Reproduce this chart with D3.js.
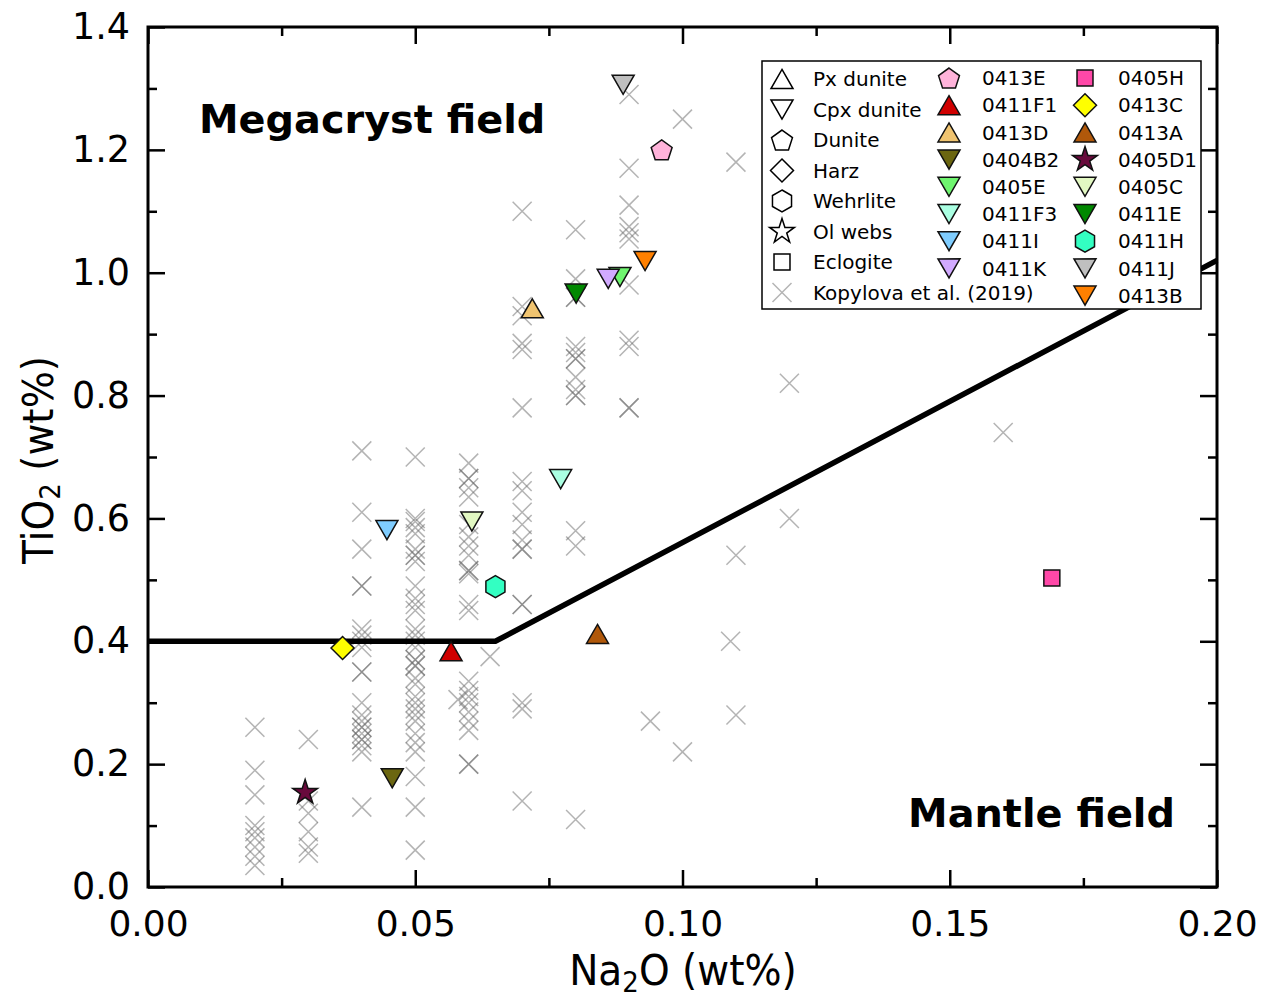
<!DOCTYPE html>
<html>
<head>
<meta charset="utf-8">
<script src="https://cdn.jsdelivr.net/npm/d3@7"></script>
<style>
  html, body { margin: 0; padding: 0; background: #fff; }
  svg { display: block; }
</style>
</head>
<body>
<div id="chart"></div>
<script>
// ---- Data -------------------------------------------------------------

// Kopylova et al. (2019) clinopyroxene analyses, grouped by Na2O (wt%)
const kopylova = [
  { na: 0.02,  ti: [0.26, 0.19, 0.15, 0.10, 0.09, 0.08, 0.065, 0.05, 0.035] },
  { na: 0.03,  ti: [0.24, 0.14, 0.12, 0.09, 0.065, 0.055] },
  { na: 0.04,  ti: [0.71, 0.61, 0.55, 0.49, 0.49, 0.42, 0.41, 0.40, 0.39, 0.35, 0.35,
                    0.30, 0.28, 0.27, 0.26, 0.26, 0.25, 0.24, 0.24, 0.23, 0.22, 0.13] },
  { na: 0.05,  ti: [0.70, 0.60, 0.595, 0.585, 0.575, 0.55, 0.54, 0.54, 0.53, 0.49, 0.47,
                    0.46, 0.45, 0.42, 0.41, 0.40, 0.39, 0.37, 0.37, 0.36, 0.36, 0.34,
                    0.33, 0.31, 0.30, 0.29, 0.28, 0.27, 0.25, 0.235, 0.22, 0.18, 0.13, 0.06] },
  { na: 0.058, ti: [0.305] },
  { na: 0.06,  ti: [0.69, 0.665, 0.665, 0.65, 0.635, 0.59, 0.57, 0.555, 0.54, 0.515, 0.515,
                    0.51, 0.46, 0.45, 0.335, 0.32, 0.31, 0.30, 0.285, 0.27, 0.255, 0.20, 0.20] },
  { na: 0.064, ti: [0.375] },
  { na: 0.07,  ti: [1.10, 0.945, 0.93, 0.885, 0.875, 0.78, 0.66, 0.645, 0.61, 0.59, 0.565,
                    0.55, 0.55, 0.46, 0.46, 0.30, 0.29, 0.14] },
  { na: 0.08,  ti: [1.07, 0.99, 0.96, 0.96, 0.88, 0.87, 0.86, 0.86, 0.83, 0.81, 0.80, 0.80,
                    0.58, 0.555, 0.11] },
  { na: 0.09,  ti: [1.29, 1.17, 1.11, 1.075, 1.065, 1.055, 0.98, 0.89, 0.88, 0.78, 0.78] },
  { na: 0.094, ti: [0.27] },
  { na: 0.10,  ti: [1.25, 0.22] },
  { na: 0.109, ti: [0.40] },
  { na: 0.11,  ti: [1.18, 0.54, 0.28] },
  { na: 0.12,  ti: [0.82, 0.60] },
  { na: 0.16,  ti: [0.74] }
];

// Samples from this study
const sampleIds   = ["0413E", "0411F1", "0413D", "0404B2", "0405E", "0411F3", "0411I", "0411K",
                     "0405H", "0413C", "0413A", "0405D1", "0405C", "0411E", "0411H", "0411J", "0413B"];
const sampleRock  = ["Dunite", "Px dunite", "Px dunite", "Cpx dunite", "Cpx dunite", "Cpx dunite",
                     "Cpx dunite", "Cpx dunite", "Eclogite", "Harz", "Px dunite", "Ol webs",
                     "Cpx dunite", "Cpx dunite", "Wehrlite", "Cpx dunite", "Cpx dunite"];
const sampleNa2O  = [0.0961, 0.0567, 0.0719, 0.0457, 0.0883, 0.0772, 0.0447, 0.0861,
                     0.1691, 0.0364, 0.0841, 0.0294, 0.0606, 0.0801, 0.0650, 0.0889, 0.0930];
const sampleTiO2  = [1.200, 0.384, 0.942, 0.177, 0.993, 0.664, 0.581, 0.990,
                     0.503, 0.389, 0.412, 0.154, 0.595, 0.966, 0.489, 1.306, 1.019];

// Megacryst / mantle field boundary
const boundaryNa2O = [0, 0.065, 0.2];
const boundaryTiO2 = [0.4, 0.4, 1.02];

// Axis ticks
const xMajorTicks = [0, 0.05, 0.10, 0.15, 0.20];
const xMinorTicks = [0.025, 0.075, 0.125, 0.175];
const yMajorTicks = [0, 0.2, 0.4, 0.6, 0.8, 1.0, 1.2, 1.4];
const yMinorTicks = [0.1, 0.3, 0.5, 0.7, 0.9, 1.1, 1.3];

// Legend groups
const rockTypes = ["Px dunite", "Cpx dunite", "Dunite", "Harz", "Wehrlite", "Ol webs", "Eclogite"];
const legendCol2 = ["0413E", "0411F1", "0413D", "0404B2", "0405E", "0411F3", "0411I", "0411K"];
const legendCol3 = ["0405H", "0413C", "0413A", "0405D1", "0405C", "0411E", "0411H", "0411J", "0413B"];

// ---- Styles -----------------------------------------------------------

const sampleColor = {
  "0413E": "#ffb3da", "0411F1": "#d00000", "0413D": "#f0c470", "0404B2": "#6b6610",
  "0405E": "#6ff56f", "0411F3": "#aaffe2", "0411I": "#7fcdff", "0411K": "#d2aaff",
  "0405H": "#ff48a8", "0413C": "#ffff00", "0413A": "#b0580a", "0405D1": "#680a3c",
  "0405C": "#e2f8c2", "0411E": "#008800", "0411H": "#33ffc2", "0411J": "#bfbfbf",
  "0413B": "#ff8000"
};
const rockShape = {
  "Px dunite": "up", "Cpx dunite": "down", "Dunite": "pentagon", "Harz": "diamond",
  "Wehrlite": "hexagon", "Ol webs": "star", "Eclogite": "square"
};

// ---- Geometry ---------------------------------------------------------

const W = 1270, H = 1002;
const plot = { left: 148, right: 1217, top: 27, bottom: 887 };

const x = d3.scaleLinear().domain([0, 0.2]).range([plot.left, plot.right]);
const y = d3.scaleLinear().domain([0, 1.4]).range([plot.bottom, plot.top]);

const svg = d3.select("#chart").append("svg")
  .attr("width", W).attr("height", H)
  .attr("font-family", "'DejaVu Sans', Verdana, sans-serif");

// polygon path centred on its bounding box
function polygonPath(n, r, startDeg) {
  const pts = d3.range(n).map(i => {
    const a = (startDeg + i * 360 / n) * Math.PI / 180;
    return [r * Math.cos(a), r * Math.sin(a)];
  });
  const ex = d3.extent(pts, p => p[0]), ey = d3.extent(pts, p => p[1]);
  const cx = (ex[0] + ex[1]) / 2, cy = (ey[0] + ey[1]) / 2;
  return "M" + pts.map(p => [(p[0] - cx).toFixed(2), (p[1] - cy).toFixed(2)].join(",")).join("L") + "Z";
}

function shapePath(kind) {
  switch (kind) {
    case "up":       return polygonPath(3, 12.7, -90);
    case "down":     return polygonPath(3, 12.7, 90);
    case "pentagon": return polygonPath(5, 11, -90);
    case "hexagon":  return polygonPath(6, 11, -90);
    case "diamond":  return polygonPath(4, 11.5, -90);
    case "square":   return polygonPath(4, 11.3, -45);
    case "star":     return d3.symbol().type(d3.symbolStar).size(190)();
  }
}

const crossPath = "M-9.5,-9.5L9.5,9.5M-9.5,9.5L9.5,-9.5";
const crossStyle = sel => sel.attr("fill", "none").attr("stroke", "#6a6a6a")
  .attr("stroke-width", 1.5).attr("stroke-opacity", 0.5);

// ---- Ticks (inward on all four sides) --------------------------------

const tickW = 2.5;
function styleAxis(g) {
  g.select(".domain").remove();
  g.selectAll(".tick line").attr("stroke", "#000").attr("stroke-width", tickW);
}

// bottom
svg.append("g").attr("transform", `translate(0,${plot.bottom})`)
  .call(d3.axisBottom(x).tickValues(xMajorTicks).tickSize(-17).tickPadding(0)
    .tickFormat(d3.format(".2f")))
  .call(styleAxis)
  .call(g => g.selectAll(".tick text").attr("font-size", 36).attr("fill", "#000")
    .attr("font-family", "'DejaVu Sans', Verdana, sans-serif")
    .attr("dy", null).attr("y", 49));
svg.append("g").attr("transform", `translate(0,${plot.bottom})`)
  .call(d3.axisBottom(x).tickValues(xMinorTicks).tickSize(-9).tickFormat(""))
  .call(styleAxis);
// top
svg.append("g").attr("transform", `translate(0,${plot.top})`)
  .call(d3.axisTop(x).tickValues(xMajorTicks).tickSize(-17).tickFormat(""))
  .call(styleAxis);
svg.append("g").attr("transform", `translate(0,${plot.top})`)
  .call(d3.axisTop(x).tickValues(xMinorTicks).tickSize(-9).tickFormat(""))
  .call(styleAxis);
// left
svg.append("g").attr("transform", `translate(${plot.left},0)`)
  .call(d3.axisLeft(y).tickValues(yMajorTicks).tickSize(-17).tickPadding(18)
    .tickFormat(d3.format(".1f")))
  .call(styleAxis)
  .call(g => g.selectAll(".tick text").attr("font-size", 36.5).attr("fill", "#000")
    .attr("font-family", "'DejaVu Sans', Verdana, sans-serif"));
svg.append("g").attr("transform", `translate(${plot.left},0)`)
  .call(d3.axisLeft(y).tickValues(yMinorTicks).tickSize(-9).tickFormat(""))
  .call(styleAxis);
// right
svg.append("g").attr("transform", `translate(${plot.right},0)`)
  .call(d3.axisRight(y).tickValues(yMajorTicks).tickSize(-17).tickFormat(""))
  .call(styleAxis);
svg.append("g").attr("transform", `translate(${plot.right},0)`)
  .call(d3.axisRight(y).tickValues(yMinorTicks).tickSize(-9).tickFormat(""))
  .call(styleAxis);

// ---- Kopylova et al. crosses -----------------------------------------

const kopPoints = kopylova.flatMap(c => c.ti.map(t => ({ na: c.na, ti: t })));
svg.append("g").selectAll("path").data(kopPoints).join("path")
  .attr("transform", d => `translate(${x(d.na)},${y(d.ti)})`)
  .attr("d", crossPath)
  .call(crossStyle);

// ---- Field boundary --------------------------------------------------

svg.append("path")
  .datum(d3.zip(boundaryNa2O, boundaryTiO2))
  .attr("d", d3.line().x(d => x(d[0])).y(d => y(d[1])))
  .attr("fill", "none").attr("stroke", "#000").attr("stroke-width", 5.5)
  .attr("stroke-linejoin", "miter");

// ---- Samples ---------------------------------------------------------

const samples = sampleIds.map((id, i) => ({
  id, rock: sampleRock[i], na: sampleNa2O[i], ti: sampleTiO2[i]
}));
svg.append("g").selectAll("path").data(samples).join("path")
  .attr("transform", d => `translate(${x(d.na)},${y(d.ti)})`)
  .attr("d", d => shapePath(rockShape[d.rock]))
  .attr("fill", d => sampleColor[d.id])
  .attr("stroke", "#111").attr("stroke-width", 1.5).attr("stroke-linejoin", "miter");

// ---- Plot frame ------------------------------------------------------

svg.append("rect")
  .attr("x", plot.left).attr("y", plot.top)
  .attr("width", plot.right - plot.left).attr("height", plot.bottom - plot.top)
  .attr("fill", "none").attr("stroke", "#000").attr("stroke-width", 3);

// ---- Field labels ----------------------------------------------------

svg.append("text").attr("x", 199).attr("y", 133)
  .attr("font-size", 39.8).attr("font-weight", "bold").text("Megacryst field");
svg.append("text").attr("x", 1175).attr("y", 827).attr("text-anchor", "end")
  .attr("font-size", 39.8).attr("font-weight", "bold").text("Mantle field");

// ---- Axis titles -----------------------------------------------------

const xt = svg.append("g").attr("transform", "translate(683,985) scale(0.93,1)")
  .append("text").attr("text-anchor", "middle").attr("font-size", 42);
xt.append("tspan").text("Na");
xt.append("tspan").attr("font-size", 28).attr("dy", 7).text("2");
xt.append("tspan").attr("dy", -7).text("O (wt%)");

const yt = svg.append("g").attr("transform", "translate(53,460) rotate(-90) scale(0.93,1)")
  .append("text").attr("text-anchor", "middle").attr("font-size", 42);
yt.append("tspan").text("TiO");
yt.append("tspan").attr("font-size", 28).attr("dy", 7).text("2");
yt.append("tspan").attr("dy", -7).text(" (wt%)");

// ---- Legend ----------------------------------------------------------

const lg = svg.append("g").attr("font-size", 20);
lg.append("rect").attr("x", 762).attr("y", 61).attr("width", 439).attr("height", 248)
  .attr("fill", "#fff").attr("stroke", "#000").attr("stroke-width", 1.5);

const col1Step = 30.5, col1Top = 79;
rockTypes.forEach((r, i) => {
  const cy = col1Top + i * col1Step;
  lg.append("path").attr("transform", `translate(782,${cy})`)
    .attr("d", shapePath(rockShape[r])).attr("fill", "#fff")
    .attr("stroke", "#000").attr("stroke-width", 1.5);
  lg.append("text").attr("x", 813).attr("y", cy).attr("dy", "0.36em").text(r);
});
{
  const cy = col1Top + rockTypes.length * col1Step;
  lg.append("path").attr("transform", `translate(782,${cy})`)
    .attr("d", crossPath).attr("fill", "none").attr("stroke", "#b4b4b4").attr("stroke-width", 1.5);
  lg.append("text").attr("x", 813).attr("y", cy).attr("dy", "0.36em").text("Kopylova et al. (2019)");
}

const rowStep = 27.2, rowTop = 78;
function sampleLegend(ids, symX, textX) {
  ids.forEach((id, i) => {
    const cy = rowTop + i * rowStep;
    const rock = sampleRock[sampleIds.indexOf(id)];
    lg.append("path").attr("transform", `translate(${symX},${cy})`)
      .attr("d", shapePath(rockShape[rock])).attr("fill", sampleColor[id])
      .attr("stroke", "#111").attr("stroke-width", 1.5);
    lg.append("text").attr("x", textX).attr("y", cy).attr("dy", "0.36em").text(id);
  });
}
sampleLegend(legendCol2, 949, 982);
sampleLegend(legendCol3, 1085, 1118);
</script>
</body>
</html>
